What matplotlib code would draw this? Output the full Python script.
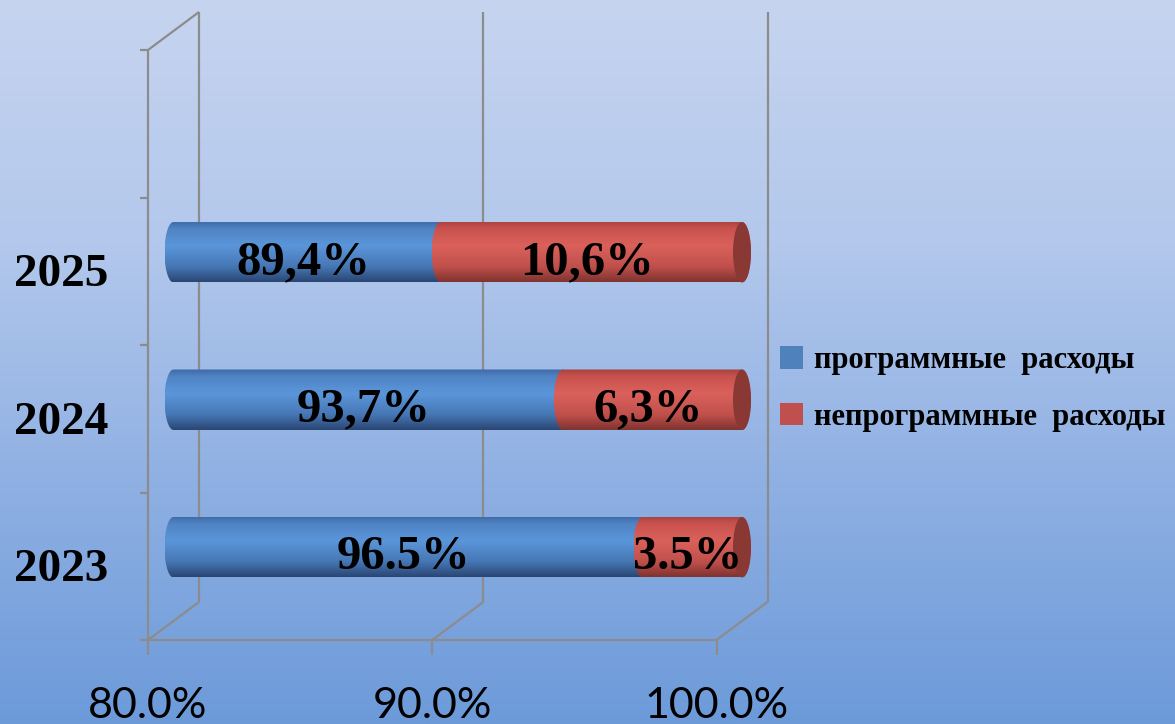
import numpy as np
import matplotlib
matplotlib.use("Agg")
import matplotlib.pyplot as plt
from matplotlib.path import Path
from matplotlib.patches import PathPatch, Ellipse, Patch
from matplotlib.colors import LinearSegmentedColormap

# ---------------- data ----------------
years = ["2023", "2024", "2025"]
program = [96.5, 93.7, 89.4]
nonprogram = [3.5, 6.3, 10.6]
program_labels = ["96.5%", "93,7%", "89,4%"]
nonprogram_labels = ["3.5%", "6,3%", "10,6%"]
series_names = ["программные  расходы", "непрограммные  расходы"]
xticks = [80, 90, 100]
xtick_labels = ["80.0%", "90.0%", "100.0%"]

W, H = 1175, 724
fig = plt.figure(figsize=(W / 100, H / 100), dpi=100)

# background gradient
bg = fig.add_axes([0, 0, 1, 1], zorder=-10)
bg_cmap = LinearSegmentedColormap.from_list("bg", ["#c6d4ef", "#b3c8ec", "#8fb0e3", "#6c9ad9"])
bg.imshow(np.linspace(0, 1, 256).reshape(-1, 1), aspect="auto", cmap=bg_cmap,
          extent=[0, 1, 0, 1], origin="upper")
bg.axis("off")

# main axes: mid-depth plane of the 3D box
x_left, x_right = 173.5, 742.0
y_top, y_bot = 31.0, 621.0
ax = fig.add_axes([x_left / W, 1 - y_bot / H, (x_right - x_left) / W, (y_bot - y_top) / H])
ax.set_facecolor("none")
ax.axis("off")
XMIN, XMAX = 80, 100
YMIN, YMAX = -0.5, 3.5

px_x = (x_right - x_left) / (XMAX - XMIN)
px_y = (y_bot - y_top) / (YMAX - YMIN)
DX = 25.5 / px_x
DY = 19.0 / px_y

gcol = "#8c8c8c"
lw = 1.6
def line(xs, ys):
    ax.plot(xs, ys, color=gcol, lw=lw, clip_on=False, solid_capstyle="butt", zorder=1)

# walls
line([XMIN - DX, XMIN - DX], [YMIN - DY, YMAX - DY])          # front left vertical
line([XMIN + DX, XMIN + DX], [YMIN + DY, YMAX + DY])          # back left vertical
line([XMIN - DX, XMIN + DX], [YMAX - DY, YMAX + DY])          # top diagonal
for xv in xticks:
    line([xv - DX, xv + DX], [YMIN - DY, YMIN + DY])          # floor diagonals
    if xv != XMIN:
        line([xv + DX, xv + DX], [YMIN + DY, YMAX + DY])      # back wall verticals
    line([xv - DX, xv - DX], [YMIN - DY, YMIN - DY - 15 / px_y])  # ticks
line([XMIN - DX, XMAX - DX], [YMIN - DY, YMIN - DY])          # front floor edge
for k in range(5):
    line([XMIN - DX - 8 / px_x, XMIN - DX], [YMIN + k - DY, YMIN + k - DY])

for xv, lab in zip(xticks, xtick_labels):
    ax.text(xv - DX, YMIN - DY - 66 / px_y, lab, ha="center", va="center",
            fontsize=31, family="Lato", color="black")

# cylinders
blue_cmap = LinearSegmentedColormap.from_list(
    "b", [(0, "#3f6aa6"), (0.12, "#4f83c4"), (0.4, "#5b96da"), (0.75, "#4677b5"), (1, "#2a4673")])
red_cmap = LinearSegmentedColormap.from_list(
    "r", [(0, "#a8423f"), (0.12, "#c9524e"), (0.4, "#db615b"), (0.75, "#c0504c"), (1, "#80332f")])

bar_h = 0.41
rx = 9.0 / px_x
grad = np.linspace(0, 1, 128).reshape(-1, 1)

def cyl(x0, x1, yc, cmap):
    t = np.linspace(np.pi / 2, -np.pi / 2, 40)
    right = np.column_stack([x1 + rx * np.cos(t), yc + bar_h / 2 * np.sin(t)])
    t2 = np.linspace(-np.pi / 2, -3 * np.pi / 2, 40)
    left = np.column_stack([x0 + rx * np.cos(t2), yc + bar_h / 2 * np.sin(t2)])
    verts = np.vstack([right, left, right[:1]])
    patch = PathPatch(Path(verts), facecolor="none", edgecolor="none", zorder=3, clip_on=False)
    ax.add_patch(patch)
    im = ax.imshow(grad, cmap=cmap, aspect="auto", origin="upper",
                   extent=[x0 - rx, x1 + rx, yc - bar_h / 2, yc + bar_h / 2], zorder=3)
    im.set_clip_box(fig.bbox)
    im.set_clip_path(patch)

lab_dy = 10 / px_y
for i, (p, n) in enumerate(zip(program, nonprogram)):
    cyl(XMIN, p, i, blue_cmap)
    cyl(p, p + n, i, red_cmap)
    ax.add_patch(Ellipse((p + n, i), 2 * rx, bar_h, facecolor="#8a3834",
                         edgecolor="none", zorder=4, clip_on=False))
    ax.text((XMIN + p) / 2 - 0.15, i - lab_dy, program_labels[i], ha="center", va="center",
            fontsize=35, fontweight="bold", family="Liberation Serif", zorder=6)
    ax.text((p + p + n) / 2 - 0.15, i - lab_dy, nonprogram_labels[i], ha="center", va="center",
            fontsize=35, fontweight="bold", family="Liberation Serif", zorder=6)

for i, y in enumerate(years):
    ax.text(XMIN - (x_left - 61) / px_x, i - DY - 4 / px_y, y, ha="center", va="center",
            fontsize=34, fontweight="bold", family="Liberation Serif")

ax.set_xlim(XMIN, XMAX)
ax.set_ylim(YMIN, YMAX)

handles = [Patch(facecolor="#4f81bd"), Patch(facecolor="#c0504d")]
fig.legend(handles, series_names, loc="center left", bbox_to_anchor=(780 / W, 1 - 389 / H),
           frameon=False, handlelength=0.75, handleheight=0.75, handletextpad=0.35,
           labelspacing=0.9, borderaxespad=0, borderpad=0,
           prop={"family": "Liberation Serif", "weight": "bold", "size": 22})

fig.savefig("out.png", dpi=100)
